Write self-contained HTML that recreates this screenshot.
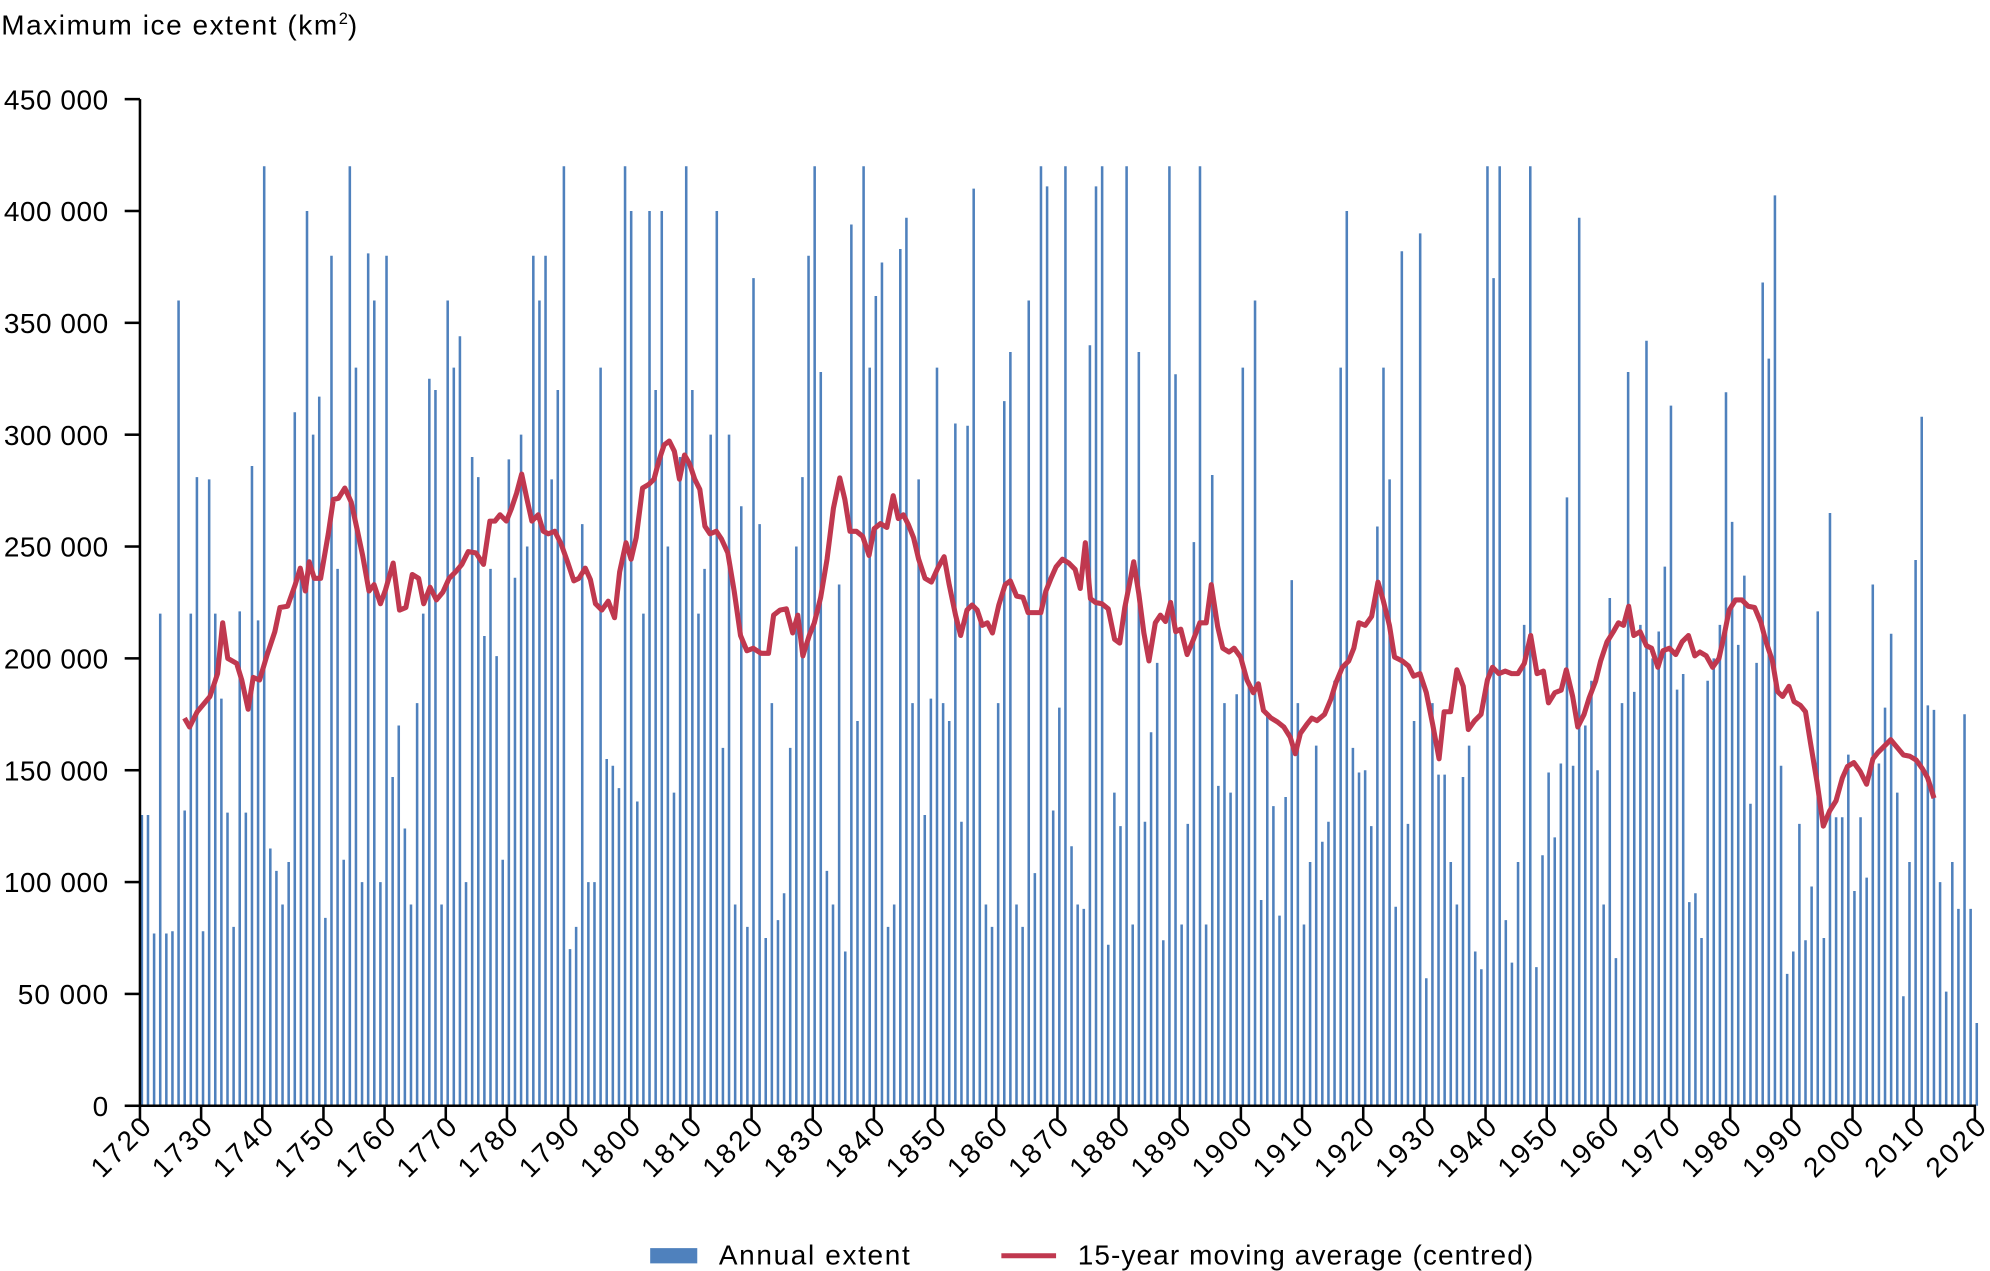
<!DOCTYPE html>
<html><head><meta charset="utf-8"><style>
html,body{margin:0;padding:0;background:#fff;}
svg{display:block;font-family:"Liberation Sans",sans-serif;}
</style></head><body>
<svg id="c" width="1990" height="1271" viewBox="0 0 1564 1000" preserveAspectRatio="none" xmlns="http://www.w3.org/2000/svg">
<text x="1" y="27" font-size="22" fill="#000"><tspan textLength="264">Maximum ice extent (km</tspan><tspan font-size="13" dy="-8">2</tspan><tspan dy="8">)</tspan></text>
<g font-size="22" text-anchor="end" fill="#000">
<text x="85" y="86" textLength="82">450 000</text><text x="85" y="174" textLength="82">400 000</text><text x="85" y="262" textLength="82">350 000</text>
<text x="85" y="350" textLength="82">300 000</text><text x="85" y="438" textLength="82">250 000</text><text x="85" y="526" textLength="82">200 000</text>
<text x="85" y="614" textLength="82">150 000</text><text x="85" y="702" textLength="82">100 000</text><text x="85" y="790" textLength="71">50 000</text><text x="85" y="878">0</text>
</g>
<g id="bars" stroke="#4f81bd" stroke-width="2"></g>
<g stroke="#000" stroke-width="2">
<line x1="110" y1="78" x2="110" y2="871"/><line x1="109" y1="870" x2="1553" y2="870"/>
<line x1="98" y1="78" x2="110" y2="78"/><line x1="98" y1="166" x2="110" y2="166"/><line x1="98" y1="254" x2="110" y2="254"/>
<line x1="98" y1="342" x2="110" y2="342"/><line x1="98" y1="430" x2="110" y2="430"/><line x1="98" y1="518" x2="110" y2="518"/>
<line x1="98" y1="606" x2="110" y2="606"/><line x1="98" y1="694" x2="110" y2="694"/><line x1="98" y1="782" x2="110" y2="782"/>
<line x1="98" y1="870" x2="110" y2="870"/>
</g>
<g id="xt" stroke="#000" stroke-width="2"></g>
<g id="xl" font-size="22" text-anchor="end" fill="#000"></g>
<polyline fill="none" stroke="#c0384f" stroke-width="4" stroke-linejoin="round" points="145,565 149,572 155,560 165,548 171,530 175,490 179,518 186,522 190,535 195,558 199,533 204,535 210,515 216,497 220,478 226,477 232,460 236,447 240,465 243,442 247,455 252,455 258,420 262,393 266,392 271,384 276,395 281,418 285,437 290,465 294,460 299,475 303,464 309,443 314,480 319,478 324,452 329,455 333,475 338,462 343,472 348,466 353,455 358,450 363,444 368,434 374,435 380,444 385,410 389,410 393,405 398,410 402,400 406,388 410,373 414,392 418,410 423,405 427,418 431,420 436,418 441,428 446,442 451,457 455,455 460,447 464,456 468,475 473,480 478,473 483,486 487,450 492,427 496,440 500,423 505,384 510,381 514,377 518,362 522,350 526,347 530,355 534,377 538,358 542,365 546,377 550,385 554,414 558,420 563,418 567,424 572,435 577,465 582,500 587,512 592,510 598,514 604,514 608,484 613,480 618,479 623,498 627,484 631,516 636,500 640,490 645,470 650,440 655,400 660,376 664,393 668,418 673,418 678,422 683,437 687,416 692,412 697,415 702,390 706,408 710,405 714,413 718,423 722,440 727,455 732,458 737,447 742,438 746,460 751,484 755,500 760,480 764,476 768,480 772,492 776,490 780,498 785,476 790,460 794,457 799,469 804,470 808,482 814,482 818,482 822,465 826,455 830,446 835,440 840,443 845,448 849,463 853,427 857,471 861,474 866,475 871,479 876,503 880,506 884,478 888,458 891,442 895,467 899,498 903,520 908,490 912,484 916,489 920,474 924,497 928,495 933,515 938,503 943,490 948,490 952,460 957,493 961,510 966,513 970,510 975,517 980,535 985,545 989,538 993,559 999,565 1004,568 1009,572 1014,580 1018,593 1022,577 1027,570 1031,565 1035,567 1041,562 1046,550 1050,537 1055,525 1060,520 1064,510 1068,490 1073,492 1078,485 1083,458 1087,472 1092,492 1096,517 1102,520 1107,524 1111,532 1116,530 1121,545 1126,570 1131,597 1135,560 1140,560 1145,527 1150,540 1154,574 1159,567 1164,562 1169,535 1173,525 1178,530 1183,528 1188,530 1193,530 1198,522 1203,500 1208,530 1213,528 1217,553 1222,545 1227,543 1231,527 1236,548 1240,572 1245,562 1249,549 1254,536 1258,520 1263,505 1268,497 1272,490 1276,492 1280,477 1284,500 1289,497 1294,508 1298,510 1303,525 1307,512 1312,510 1317,515 1322,505 1327,500 1332,516 1336,513 1341,516 1346,525 1351,518 1355,500 1359,480 1364,472 1369,472 1374,477 1379,478 1384,490 1388,505 1393,520 1397,544 1401,548 1406,540 1410,552 1415,555 1419,560 1423,585 1428,615 1433,650 1438,638 1443,630 1448,612 1452,603 1457,600 1462,607 1467,617 1472,597 1476,592 1481,587 1486,582 1491,588 1496,594 1501,595 1506,598 1511,605 1515,612 1520,628"/>
<rect x="511" y="982" width="37" height="12" fill="#4f81bd"/>
<text x="565" y="995" font-size="22" textLength="150">Annual extent</text>
<line x1="787" y1="988" x2="830" y2="988" stroke="#c0384f" stroke-width="4"/>
<text x="847" y="995" font-size="22" textLength="358">15-year moving average (centred)</text>
</svg>
<script>
var v=[130,130,77,220,77,78,360,132,220,281,78,280,220,182,131,80,221,131,286,217,420,115,105,90,109,310,240,400,300,317,84,380,240,110,420,330,100,381,360,100,380,147,170,124,90,180,220,325,320,90,360,330,344,100,290,281,210,240,201,110,289,236,300,250,380,360,380,280,320,420,70,80,260,100,100,330,155,152,142,420,400,136,220,400,320,400,250,140,290,420,320,220,240,300,400,160,300,90,268,80,370,260,75,180,83,95,160,250,281,380,420,328,105,90,233,69,394,172,420,330,362,377,80,90,383,397,180,280,130,182,330,180,172,305,127,304,410,220,90,80,180,315,337,90,80,360,104,420,411,132,178,420,116,90,88,340,411,420,72,140,125,420,81,337,127,167,198,74,420,327,81,126,252,420,81,282,143,180,140,184,330,190,360,92,175,134,85,138,235,180,81,109,161,118,127,190,330,400,160,149,150,125,259,330,280,89,382,126,172,390,57,180,148,148,109,90,147,161,69,61,420,370,420,83,64,109,215,420,62,112,149,120,153,272,152,397,170,190,150,90,227,66,180,328,185,215,342,200,212,241,313,186,193,91,95,75,190,200,215,319,261,206,237,135,198,368,334,407,152,59,69,126,74,98,221,75,265,129,129,157,96,129,102,233,153,178,211,140,49,109,244,308,179,177,100,51,109,88,175,88,37];
var ns="http://www.w3.org/2000/svg",d="";
for(var i=0;i<v.length;i++){var x=(111.5+i*4.807).toFixed(2);d+="M"+x+" 870V"+(870-v[i]*1.76).toFixed(1);}
var p=document.createElementNS(ns,"path");p.setAttribute("d",d);document.getElementById("bars").appendChild(p);
for(var y=1720;y<=2020;y+=10){var x=110+(y-1720)*4.807;
var l=document.createElementNS(ns,"line");l.setAttribute("x1",x);l.setAttribute("x2",x);l.setAttribute("y1",870);l.setAttribute("y2",882);document.getElementById("xt").appendChild(l);
var t=document.createElementNS(ns,"text");t.setAttribute("transform","translate("+(x+10)+",888) rotate(-45)");t.setAttribute("textLength","56");t.textContent=y;document.getElementById("xl").appendChild(t);}
</script>
</body></html>
